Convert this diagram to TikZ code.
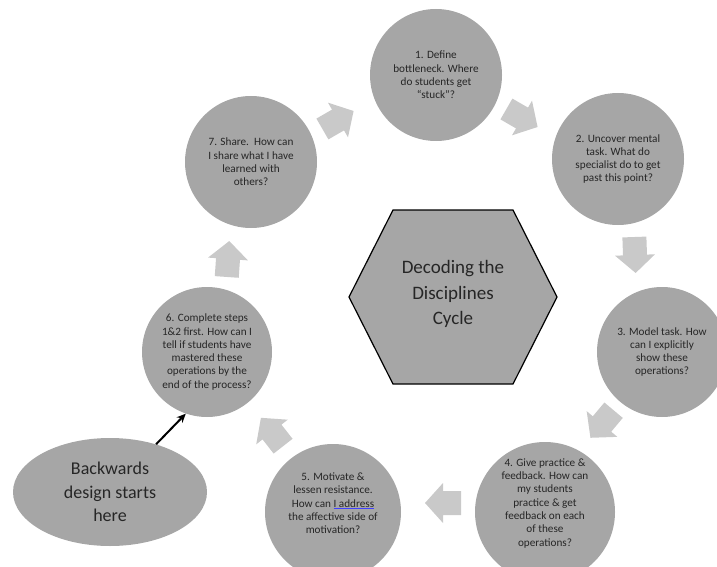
\documentclass[tikz,border=0pt]{standalone}
\usepackage{fontspec}
\setmainfont{Carlito}
\usetikzlibrary{shapes.geometric,arrows.meta}
\definecolor{circgray}{HTML}{A6A6A6}
\definecolor{arrgray}{HTML}{C9C9C9}
\definecolor{txtgray}{HTML}{262626}
\newcommand\blueul[1]{\setbox0\hbox{#1}\rlap{\color{blue!75}\rule[-1.6pt]{\wd0}{0.9pt}}\box0}
\tikzset{
  stepcirc/.style={circle, fill=circgray, minimum size=132pt, inner sep=0pt, align=center,
    text=txtgray, font=\fontsize{11.2}{13.3}\selectfont},
  blockarrow/.pic={\fill[arrgray] (-18,-12) -- (0,-12) -- (0,-20) -- (18,0) -- (0,20) -- (0,12) -- (-18,12) -- cycle;},
}
\begin{document}
\begin{tikzpicture}[x=1pt, y=-1pt]
\useasboundingbox (0,0) rectangle (717,567);
% hexagon
\draw[fill=circgray, line width=1.2pt, line join=miter] (349,297) -- (393,210) -- (513,210) -- (557,297) -- (513,384) -- (393,384) -- cycle;
\node[text=txtgray, align=center, font=\fontsize{19}{25.5}\selectfont] (hex) at (453,294) {Decoding the\\Disciplines\\Cycle};
% circles
\node[stepcirc] (c1) at (436,75) {1. Define\\bottleneck. Where\\do students get\\“stuck”?};
\node[stepcirc] (c2) at (618,159) {2. Uncover mental\\task. What do\\specialist do to get\\past this point?};
\node[stepcirc, minimum size=130pt] (c3) at (662,352) {3. Model task. How\\can I explicitly\\show these\\operations?};
\node[stepcirc, minimum size=140pt] (c4) at (545,512) {4. Give practice \&\\feedback. How can\\my students\\practice \& get\\feedback on each\\of these\\operations?\\[6pt]};
\node[stepcirc, minimum size=136pt] (c5) at (333,512) {5. Motivate \&\\lessen resistance.\\How can \blueul{I address}\\the affective side of\\motivation?\\[4pt]};
\node[stepcirc, minimum size=130pt] (c6) at (207,352) {6. Complete steps\\1\&2 first. How can I\\tell if students have\\mastered these\\operations by the\\end of the process?};
\node[stepcirc] (c7) at (251,162) {7. Share.\ \ How can\\I share what I have\\learned with\\others?};
% ellipse
\node[ellipse, fill=circgray, minimum width=194pt, minimum height=108pt, inner sep=0pt, align=center,
  text=txtgray, font=\fontsize{18}{23.5}\selectfont] (ell) at (110,492) {Backwards\\design starts\\here};
% block arrows
\pic[rotate=30] at (338,120) {blockarrow};
\pic[rotate=-30] at (522,118) {blockarrow};
\pic[rotate=-88] at (635,255) {blockarrow};
\pic[rotate=-130] at (602,424) {blockarrow};
\pic[rotate=180] at (443,503) {blockarrow};
\pic[rotate=128] at (272,432) {blockarrow};
\pic[rotate=86] at (228,259) {blockarrow};
% pointer
\draw[line width=2pt, -{Stealth[length=9pt, width=8pt]}] (ell.46) -- (c6.251);
\end{tikzpicture}
\end{document}
